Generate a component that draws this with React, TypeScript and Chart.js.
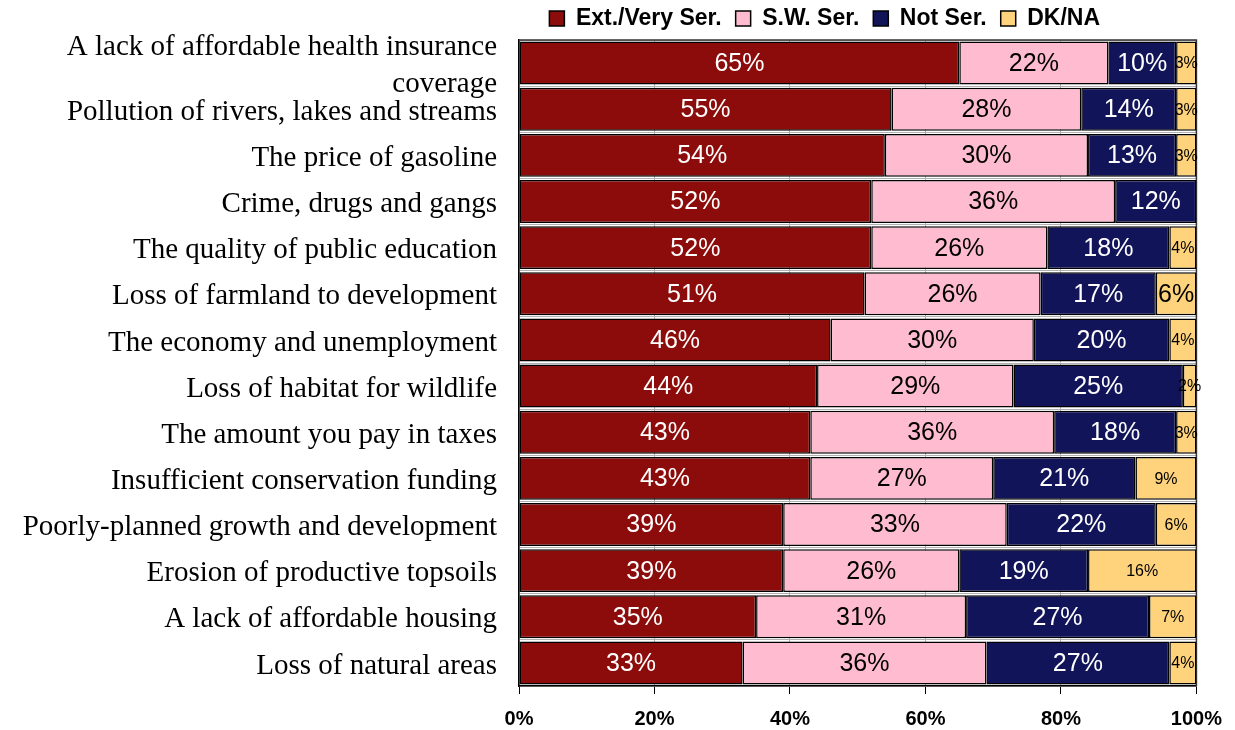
import React, { useEffect, useRef } from "react";
import { Chart, registerables } from "chart.js";

Chart.register(...registerables);

const categories: (string | string[])[] = [
  ["A lack of affordable health insurance", "coverage"],
  "Pollution of rivers, lakes and streams",
  "The price of gasoline",
  "Crime, drugs and gangs",
  "The quality of public education",
  "Loss of farmland to development",
  "The economy and unemployment",
  "Loss of habitat for wildlife",
  "The amount you pay in taxes",
  "Insufficient conservation funding",
  "Poorly-planned growth and development",
  "Erosion of productive topsoils",
  "A lack of affordable housing",
  "Loss of natural areas",
];

const extVerySer = [65, 55, 54, 52, 52, 51, 46, 44, 43, 43, 39, 39, 35, 33];
const swSer = [22, 28, 30, 36, 26, 26, 30, 29, 36, 27, 33, 26, 31, 36];
const notSer = [10, 14, 13, 12, 18, 17, 20, 25, 18, 21, 22, 19, 27, 27];
const dkNa = [3, 3, 3, 0, 4, 6, 4, 2, 3, 9, 6, 16, 7, 4];

const seriesNames = ["Ext./Very Ser.", "S.W. Ser.", "Not Ser.", "DK/NA"];
const xTicks = [0, 20, 40, 60, 80, 100];

const COLORS = ["#8B0C0A", "#FFBCD1", "#12145A", "#FFD37B"];
const LABEL_COLORS = ["#FFFFFF", "#000000", "#FFFFFF", "#000000"];
const LEGEND_LEFT = 453;

const labelPlugin = {
  id: "barLabels",
  afterDatasetsDraw(chart: any) {
    const ctx = chart.ctx;
    chart.data.datasets.forEach((ds: any, di: number) => {
      const meta = chart.getDatasetMeta(di);
      meta.data.forEach((el: any, i: number) => {
        const v = ds.data[i];
        if (!v) return;
        const big = di < 3 || (di === 3 && i === 5);
        ctx.save();
        ctx.font = `${big ? 25 : 16}px "Liberation Sans", Arial, sans-serif`;
        ctx.fillStyle = LABEL_COLORS[di];
        ctx.textAlign = "center";
        ctx.textBaseline = "middle";
        ctx.fillText(v + "%", (el.x + el.base) / 2, el.y + 1);
        ctx.restore();
      });
    });
  },
};

const framePlugin = {
  id: "frame",
  afterLayout(chart: any) {
    if (chart.legend) {
      chart.legend.left = LEGEND_LEFT;
      chart.legend.right = chart.chartArea.right;
    }
  },
  beforeDatasetsDraw(chart: any) {
    const { ctx, chartArea } = chart;
    ctx.save();
    ctx.strokeStyle = "#333";
    ctx.lineWidth = 1.5;
    ctx.beginPath();
    ctx.moveTo(chartArea.left, chartArea.top);
    ctx.lineTo(chartArea.right, chartArea.top);
    ctx.lineTo(chartArea.right, chartArea.bottom);
    ctx.stroke();
    ctx.restore();
  },
};

export default function App() {
  const ref = useRef<HTMLCanvasElement>(null);
  useEffect(() => {
    if (!ref.current) return;
    const data = [extVerySer, swSer, notSer, dkNa];
    const chart = new Chart(ref.current, {
      type: "bar",
      data: {
        labels: categories,
        datasets: data.map((d, k) => ({
          label: seriesNames[k],
          data: d,
          backgroundColor: COLORS[k],
          borderColor: "#000",
          borderWidth: 1.5,
          borderSkipped: false,
          barPercentage: 1,
          categoryPercentage: 0.93,
        })),
      },
      options: {
        indexAxis: "y",
        animation: false,
        responsive: false,
        layout: { padding: { left: 0, right: 38, top: -7, bottom: 0 } },
        plugins: {
          legend: {
            position: "top",
            labels: {
              boxWidth: 15,
              boxHeight: 15,
              padding: 14,
              color: "#000",
              font: { family: '"Liberation Sans", Arial, sans-serif', size: 23, weight: "bold" },
            },
          },
          tooltip: { enabled: false },
        },
        scales: {
          x: {
            stacked: true,
            min: 0,
            max: 100,
            afterBuildTicks: (s: any) => {
              s.ticks = xTicks.map((v) => ({ value: v }));
            },
            afterFit: (s: any) => {
              s.height = 44;
            },
            ticks: {
              color: "#000",
              padding: 13,
              font: { family: '"Liberation Sans", Arial, sans-serif', size: 20, weight: "bold" },
              callback: (v: any) => v + "%",
            },
            grid: { color: "#b0b0b0", tickColor: "#000", tickLength: 8, lineWidth: 1 },
            border: { color: "#000", width: 1.5 },
          },
          y: {
            stacked: true,
            afterFit: (s: any) => {
              s.width = 519;
              s.paddingTop = 0;
              s.paddingBottom = 0;
            },
            ticks: {
              color: "#000",
              padding: 22,
              autoSkip: false,
              labelOffset: 3,
              font: { family: '"Liberation Serif", "Times New Roman", serif', size: 29, lineHeight: 1.28 },
            },
            grid: { color: "#b0b0b0", drawTicks: false },
            border: { color: "#000", width: 1.5 },
          },
        },
      },
      plugins: [framePlugin, labelPlugin],
    });
    return () => chart.destroy();
  }, []);
  return (
    <div style={{ position: "absolute", left: 0, top: 0, width: 1235, height: 730, background: "#fff" }}>
      <canvas ref={ref} width={1235} height={730} />
    </div>
  );
}
